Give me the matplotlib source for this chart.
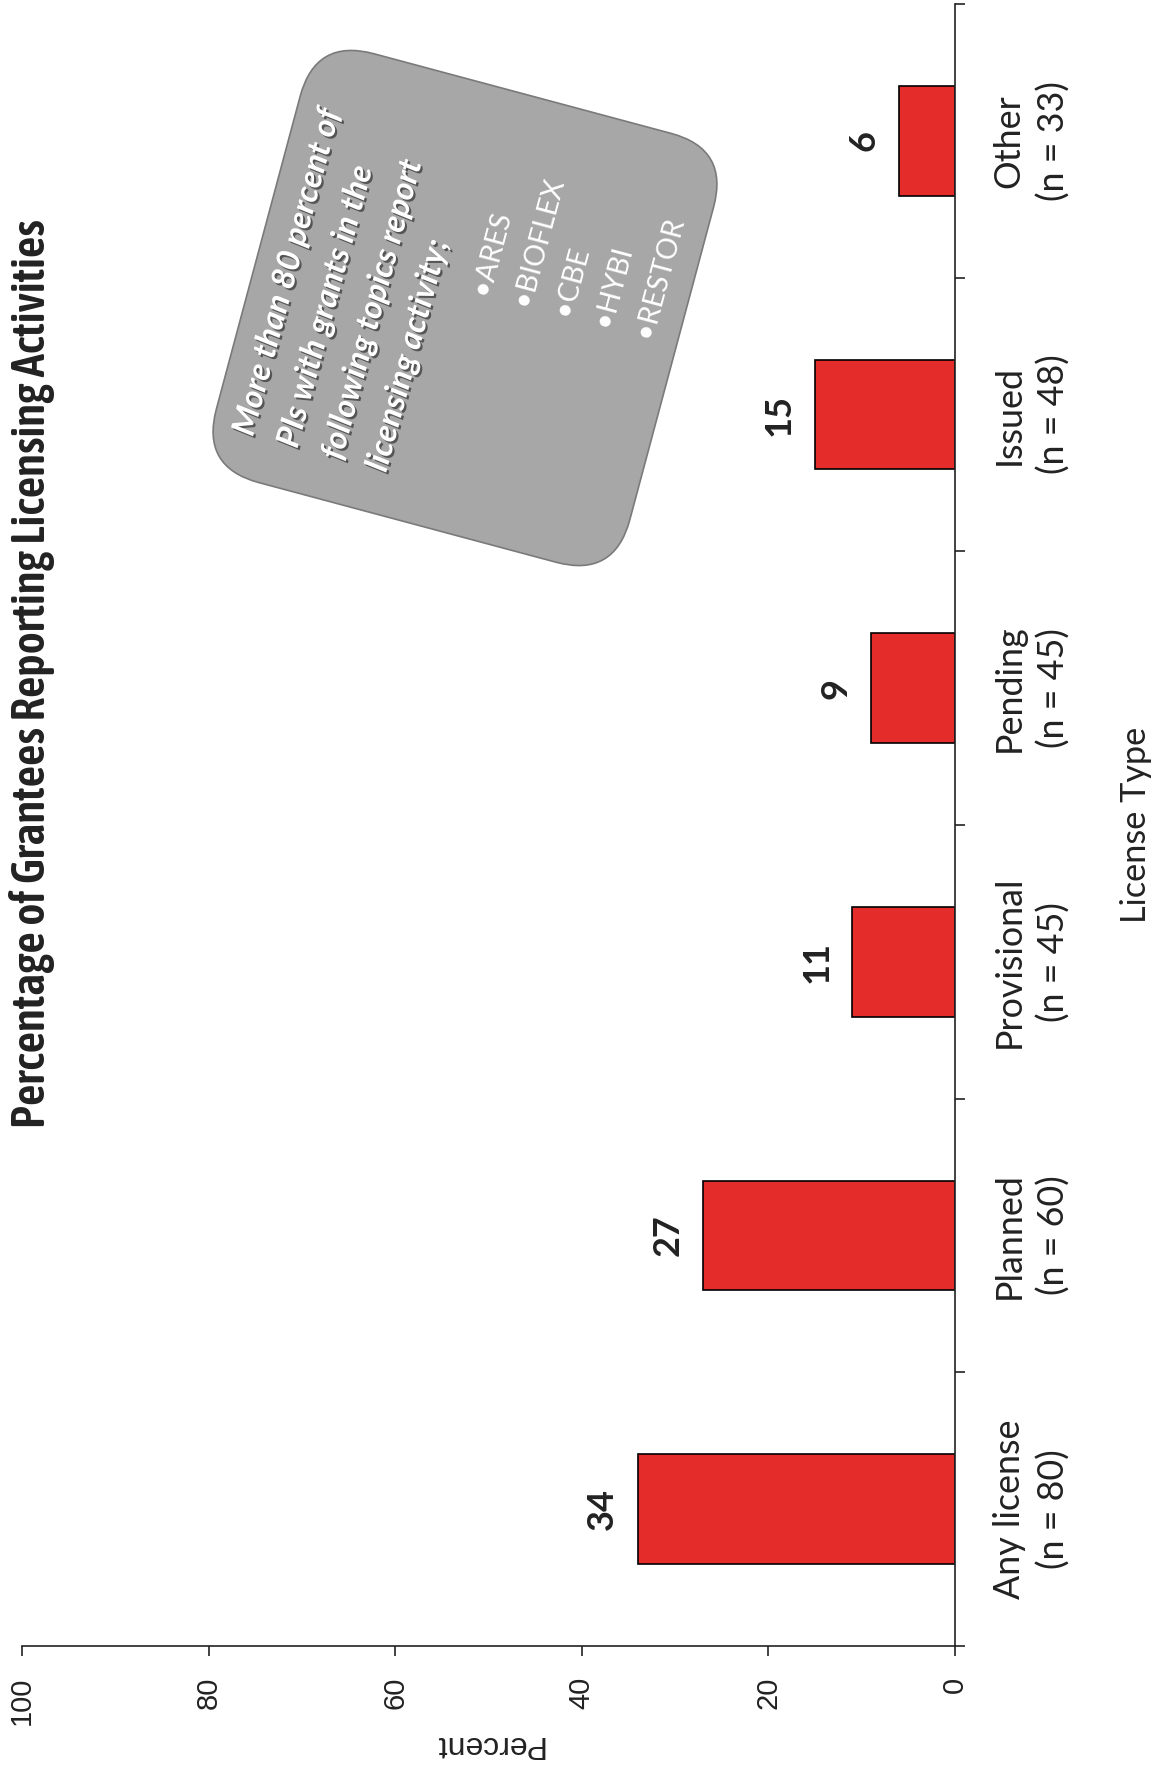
import numpy as np
import matplotlib
matplotlib.use('Agg')
import matplotlib.pyplot as plt
import matplotlib.patheffects as pe
from matplotlib.patches import FancyBboxPatch
from matplotlib.transforms import Affine2D
from matplotlib import font_manager
from matplotlib.font_manager import FontProperties

# data
categories = ['Any license', 'Planned', 'Provisional', 'Pending', 'Issued', 'Other']
n_counts = [80, 60, 45, 45, 48, 33]
percents = [34, 27, 11, 9, 15, 6]
pct_ticks = [0, 20, 40, 60, 80, 100]

title = 'Percentage of Grantees Reporting Licensing Activities'
note_lines = ['More than 80 percent of', 'PIs with grants in the',
              'following topics report', 'licensing activity;']
topics = ['ARES', 'BIOFLEX', 'CBE', 'HYBI', 'RESTOR']

W, H = 1155, 1769
plt.rcParams['font.family'] = ['Lato', 'DejaVu Sans']
arial = ['Liberation Sans', 'DejaVu Sans']
ink = '#222222'
bar_red = '#E42D2B'


def wnum(w):
    if isinstance(w, (int, float)):
        return w
    return {'bold': 700, 'semibold': 600, 'demibold': 600, 'medium': 500}.get(str(w), 400)


# look for a narrow face for the title, a bit heavier than regular if possible
title_prop = FontProperties(family='Lato', weight='bold')
narrow = [f for f in font_manager.fontManager.ttflist
          if ('narrow' in f.name.lower() or 'condensed' in f.name.lower()
              or str(f.stretch) in ('condensed', 'semi-condensed'))
          and f.style == 'normal']
if narrow:
    best = min(narrow, key=lambda f: abs(wnum(f.weight) - 600))
    title_prop = FontProperties(fname=best.fname)

fig = plt.figure(figsize=(W / 100, H / 100), dpi=100, facecolor='w')
# the page was scanned sideways: value axis runs right->left along the bottom
ax = fig.add_axes([22 / W, 123 / H, 933 / W, 1642 / H])

pos = np.arange(len(categories))
ax.barh(pos, percents, height=0.4, color=bar_red, edgecolor='black', linewidth=1.2)
for p, v in zip(pos, percents):
    ax.text(v + 3.8, p, str(v), rotation=90, ha='center', va='center',
            fontsize=26, fontweight='bold', color=ink)

ax.set_xlim(100, 0)
ax.set_ylim(-0.5, len(categories) - 0.5)
ax.set_xticks(pct_ticks)
ax.set_xticklabels([str(t) for t in pct_ticks], rotation=90, fontsize=21,
                   family=arial, color=ink)
ax.tick_params(axis='x', direction='out', length=7, width=1.2, pad=15, color=ink)
ax.set_xlabel('Percent', rotation=180, fontsize=23, family=arial, color=ink, labelpad=3)

ax.yaxis.tick_right()
ax.yaxis.set_label_position('right')
cat_labels = ['{}\n(n = {})'.format(c, n) for c, n in zip(categories, n_counts)]
ax.set_yticks(pos)
ax.set_yticklabels(cat_labels, rotation=90, va='center', ha='left', fontsize=25.8,
                   color=ink, multialignment='center', linespacing=1.38)
ax.set_yticks(np.arange(-0.5, len(categories), 1.0), minor=True)
ax.tick_params(axis='y', which='major', length=0, pad=27)
ax.tick_params(axis='y', which='minor', direction='out', length=7, width=1.2, color=ink)
ax.set_ylabel('License Type', rotation=90, fontsize=24.7, color=ink, labelpad=36)

for s in ['top', 'left']:
    ax.spines[s].set_visible(False)
for s in ['bottom', 'right']:
    ax.spines[s].set_linewidth(1.2)
    ax.spines[s].set_color(ink)

ttl = fig.text(32 / W, 1 - 674 / H, title, rotation=90, ha='center', va='center',
               fontproperties=title_prop, fontsize=30, color=ink)
# stretch the title to the length it has on the page (~908 px)
fig.canvas.draw()
ext = ttl.get_window_extent()
ttl.set_fontsize(30 * 908 / ext.height)

# tilted grey call-out box (pixel frame rotated 75 deg)
box_tf = Affine2D().rotate_deg(75).translate(465, H - 308)
box = FancyBboxPatch((-222, -214), 444, 428, boxstyle='round,pad=0,rounding_size=60',
                     transform=box_tf, facecolor='#a7a7a7', edgecolor='#7a7a7a', linewidth=1.2)
fig.add_artist(box)


def put(x_loc, y_loc, s, **kw):
    px, py = box_tf.transform((x_loc, y_loc))
    fig.text(px / W, py / H, s, rotation=75, rotation_mode='anchor',
             ha='left', va='center', color='white', **kw)


shadow = [pe.SimplePatchShadow(offset=(1.5, -1.5), shadow_rgbFace='#333333', alpha=0.7), pe.Normal()]
for i, line in enumerate(note_lines):
    put(-180, 181 - 46 * i, line, fontsize=23.5, fontweight='bold', fontstyle='italic',
        path_effects=shadow)
for i, t in enumerate(topics):
    put(18, -11.5 - 42 * i, '\u2022' + t, fontsize=20.5)

fig.savefig('out.png', dpi=100, facecolor='w')
